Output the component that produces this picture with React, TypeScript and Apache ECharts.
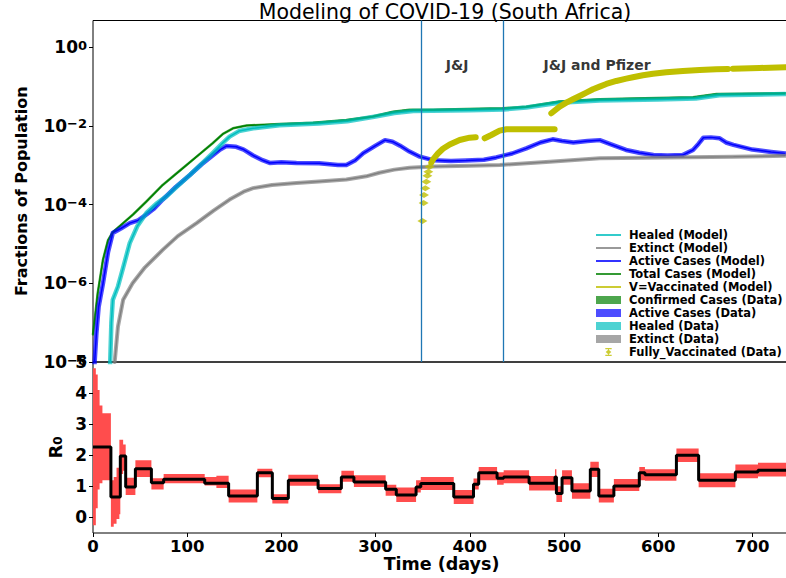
import React, { useEffect, useRef } from 'react';
import * as echarts from 'echarts';

const FONT = 'DejaVu Sans';
const X_MAX = 740;

// ---- top panel: fractions of population (stored as log10 exponents) ----
const totalDays = [0, 5, 10.6, 16, 21, 32, 42.5, 56.7, 74, 92, 110, 127, 138, 148.6, 163, 198, 233.6, 269, 297, 318.5, 336, 361, 396, 435, 460, 495, 538, 573, 637, 662, 735];
const totalLog10 = [-7.3, -6.25, -5.4, -4.9, -4.7, -4.47, -4.25, -3.92, -3.5, -3.14, -2.78, -2.44, -2.2, -2.06, -1.99, -1.95, -1.92, -1.85, -1.76, -1.64, -1.59, -1.59, -1.57, -1.55, -1.51, -1.38, -1.32, -1.3, -1.27, -1.19, -1.17];

const healedDays = [18, 19.5, 21, 26.5, 32, 39, 47, 56.7, 67, 78, 90, 102.7, 115, 127, 137, 145, 155, 170, 198, 240, 270, 300, 320, 340, 400, 436, 460, 495, 538, 600, 640, 665, 735];
const healedLog10 = [-8.2, -7.0, -6.42, -6.08, -5.6, -4.98, -4.55, -4.21, -3.98, -3.79, -3.52, -3.25, -2.97, -2.69, -2.45, -2.27, -2.13, -2.06, -1.98, -1.94, -1.88, -1.76, -1.67, -1.62, -1.6, -1.58, -1.53, -1.41, -1.35, -1.33, -1.3, -1.22, -1.19];

const activeDays = [1.5, 3.6, 6, 10.6, 16, 21, 30, 39, 48, 56.7, 65, 74, 88, 102.7, 115, 127, 135, 141.6, 152, 160, 170, 180, 187.6, 200, 216, 240, 260, 269, 278, 287, 300, 310, 318, 326, 336, 347, 361, 380, 396, 415, 428, 445, 460, 475, 488, 498, 510, 525, 538, 550, 566, 580, 595, 610, 626, 637, 643, 648, 656, 665, 672, 680, 700, 720, 735];
const activeLog10 = [-8.1, -7.27, -6.6, -6.0, -5.2, -4.72, -4.6, -4.47, -4.4, -4.25, -4.1, -3.87, -3.55, -3.25, -2.98, -2.75, -2.6, -2.51, -2.53, -2.6, -2.75, -2.87, -2.94, -2.92, -2.94, -2.95, -2.99, -2.99, -2.88, -2.69, -2.5, -2.36, -2.4, -2.5, -2.65, -2.78, -2.87, -2.89, -2.88, -2.86, -2.8, -2.7, -2.57, -2.42, -2.34, -2.38, -2.42, -2.38, -2.36, -2.47, -2.61, -2.68, -2.74, -2.75, -2.74, -2.61, -2.45, -2.3, -2.29, -2.31, -2.42, -2.48, -2.6, -2.66, -2.7];

const extinctDays = [23, 26.5, 32, 42, 55, 74, 90, 110, 128, 145, 160, 170, 190, 216, 240, 269, 290, 304, 320, 336, 361, 400, 432, 485, 538, 609, 680, 735];
const extinctLog10 = [-8.0, -7.1, -6.42, -6.0, -5.6, -5.15, -4.8, -4.47, -4.15, -3.87, -3.67, -3.58, -3.5, -3.45, -3.41, -3.36, -3.28, -3.19, -3.11, -3.06, -3.03, -3.01, -2.99, -2.91, -2.82, -2.8, -2.78, -2.76];

// fully vaccinated: first isolated daily points, then the dense record (null = no data)
const vaccEarlyDays = [349.7, 351, 351.4, 352.8, 353.9, 355, 356, 357.4];
const vaccEarlyLog10 = [-4.415, -3.96, -3.754, -3.584, -3.416, -3.263, -3.162, -3.035];
const vaccDays = [359.2, 361, 366.2, 371.5, 378.7, 389.3, 399.9, 406.3, 411, 415.8, 422.9, 431.7, 438.9, 490.1, 488, 486.6, 495.4, 502.5, 509.6, 516.7, 523.8, 530.8, 537.9, 545, 555.6, 566.2, 573.2, 583.9, 594.5, 608.7, 626.3, 644, 661.7, 674.1, 677, 679.4, 707.7, 735.3];
const vaccLog10 = [-2.932, -2.85, -2.7, -2.58, -2.47, -2.356, -2.297, -2.287, null, -2.313, -2.229, -2.119, -2.084, -2.084, null, -1.677, -1.509, -1.408, -1.321, -1.237, -1.153, -1.067, -1.001, -0.932, -0.856, -0.798, -0.762, -0.711, -0.671, -0.635, -0.602, -0.577, -0.559, -0.551, null, -0.543, -0.526, -0.508];

const vaccineEventDays = [349, 436];
const annoTexts = ['J&J', 'J&J and Pfizer'];
const annoDays = [386.6, 535.2];
const annoLevels = [0.36, 0.36];

// ---- bottom panel: R0 (piecewise constant) ----
const r0Start = [0, 3, 5, 7, 10, 19, 22, 25, 28, 29, 32, 34.7, 45, 62, 75, 118.6, 131, 144, 174.5, 190.4, 207.4, 239, 263.7, 277, 310.7, 322, 343, 348, 383, 404, 409.5, 429, 436, 463, 490.5, 492, 498, 508.5, 528, 537, 553, 580, 586, 619.4, 643, 682, 706];
const r0Value = [2.27, 2.27, 2.27, 2.27, 2.27, 0.66, 0.66, 0.66, 0.66, 1.98, 1.98, 0.98, 1.57, 1.12, 1.23, 1.1, 1.1, 0.69, 1.44, 0.61, 1.2, 0.93, 1.3, 1.14, 0.91, 0.72, 0.98, 1.09, 0.66, 1.07, 1.44, 1.26, 1.3, 1.1, 1.3, 0.77, 1.28, 0.85, 1.55, 0.69, 1.01, 1.44, 1.37, 2.0, 1.2, 1.46, 1.52];
const r0Low = [-0.25, 0.3, 0.9, 1.1, 1.2, -0.3, -0.2, -0.05, 0.1, 1.4, 1.5, 0.72, 1.3, 0.9, 1.1, 1.03, 0.95, 0.48, 1.29, 0.45, 1.02, 0.78, 1.15, 0.98, 0.7, 0.5, 0.8, 0.88, 0.43, 0.9, 1.2, 1.05, 1.1, 0.87, 1.1, 0.5, 1.05, 0.6, 1.3, 0.48, 0.85, 1.2, 1.18, 1.78, 0.97, 1.26, 1.32];
const r0High = [4.8, 4.6, 4.1, 3.6, 3.35, 1.2, 1.3, 1.6, 2.5, 2.5, 2.35, 1.28, 1.84, 1.26, 1.4, 1.3, 1.34, 0.9, 1.57, 0.75, 1.37, 1.07, 1.5, 1.36, 1.05, 0.96, 1.2, 1.3, 0.88, 1.25, 1.62, 1.45, 1.52, 1.33, 1.55, 1.0, 1.52, 1.1, 1.79, 0.92, 1.24, 1.62, 1.55, 2.22, 1.42, 1.7, 1.76];

const logTicks = [1e-8, 1e-6, 1e-4, 1e-2, 1];
const r0Ticks = [0, 1, 2, 3, 4, 5];
const dayTicks = [0, 100, 200, 300, 400, 500, 600, 700];

const pairs = (days: number[], logs: (number | null)[]) =>
  days.map((d, i) => [d, logs[i] == null ? null : Math.pow(10, logs[i] as number)]);

const LINE_ICON = 'path://M0,0H25V1.6H0Z';
const ERR_ICON = 'path://M1,0H9V1.5H1Z M5,2L8.5,5L5,8L1.5,5Z M1,8.5H9V10H1Z M4.4,0H5.6V10H4.4Z';

const modelLine = (name: string, color: string, data: any[]) => ({
  name, type: 'line', xAxisIndex: 0, yAxisIndex: 0, data, showSymbol: false, symbol: 'none',
  itemStyle: { color }, lineStyle: { color, width: 1.5 }, silent: true, z: 2,
});
const dataLine = (name: string, color: string, width: number, data: any[]) => ({
  name, type: 'line', xAxisIndex: 0, yAxisIndex: 0, data, showSymbol: false, symbol: 'none',
  itemStyle: { color }, lineStyle: { color, width, opacity: 0.7, cap: 'round', join: 'round' }, silent: true, z: 3,
});

function buildOption() {
  const bold = { fontFamily: FONT, fontWeight: 'bold' as const, color: '#000' };
  const supLabel = (v: number) => {
    const l = Math.log10(v);
    const e = Math.round(l);
    if (Math.abs(l - e) > 1e-6) return '';
    return `{b|10}{s|${e < 0 ? '\u2212' + -e : e}}`;
  };
  const bandRender = (_params: any, api: any) => {
    const up: number[][] = [];
    const lo: number[][] = [];
    for (let i = 0; i < r0Start.length; i++) {
      const x0 = r0Start[i];
      const x1 = i + 1 < r0Start.length ? r0Start[i + 1] : X_MAX;
      up.push(api.coord([x0, r0High[i]]), api.coord([x1, r0High[i]]));
      lo.push(api.coord([x0, r0Low[i]]), api.coord([x1, r0Low[i]]));
    }
    return { type: 'polygon', shape: { points: up.concat(lo.reverse()) }, style: { fill: '#ff4d4d' } };
  };
  const r0Line = r0Start.map((d, i) => [d, r0Value[i]]);
  r0Line.push([X_MAX, r0Value[r0Value.length - 1]]);

  return {
    animation: false,
    textStyle: { fontFamily: FONT },
    title: {
      text: 'Modeling of COVID-19 (South Africa)', left: 445, top: 1, textAlign: 'center', padding: 0,
      textStyle: { fontFamily: FONT, fontWeight: 'normal', fontSize: 20.5, color: '#000' },
    },
    legend: {
      orient: 'vertical', left: 596, top: 229, padding: 0, itemWidth: 25, itemHeight: 8, itemGap: 1, selectedMode: false,
      textStyle: { ...bold, fontSize: 11.5, lineHeight: 9.5, padding: [0, 0, 0, 3] },
      itemStyle: { borderWidth: 0 },
      data: [
        { name: 'Healed (Model)', icon: LINE_ICON, itemStyle: { color: '#00bfbf', borderWidth: 0 } },
        { name: 'Extinct (Model)', icon: LINE_ICON, itemStyle: { color: '#808080', borderWidth: 0 } },
        { name: 'Active Cases (Model)', icon: LINE_ICON, itemStyle: { color: '#0000ff', borderWidth: 0 } },
        { name: 'Total Cases (Model)', icon: LINE_ICON, itemStyle: { color: '#008000', borderWidth: 0 } },
        { name: 'V=Vaccinated (Model)', icon: LINE_ICON, itemStyle: { color: '#bfbf00', borderWidth: 0 } },
        { name: 'Confirmed Cases (Data)', icon: 'rect', itemStyle: { color: '#4da64d', borderWidth: 0 } },
        { name: 'Active Cases (Data)', icon: 'rect', itemStyle: { color: '#4d4dff', borderWidth: 0 } },
        { name: 'Healed (Data)', icon: 'rect', itemStyle: { color: '#4dd2d2', borderWidth: 0 } },
        { name: 'Extinct (Data)', icon: 'rect', itemStyle: { color: '#a6a6a6', borderWidth: 0 } },
        { name: 'Fully_Vaccinated (Data)', icon: ERR_ICON, itemStyle: { color: '#bfbf00', borderWidth: 0 } },
      ],
    },
    grid: [
      { left: 93, right: -4, top: 20.5, bottom: 216, outerBoundsMode: 'none', containLabel: false, show: true, borderColor: '#000', borderWidth: 1, backgroundColor: 'transparent' },
      { left: 93, right: -4, top: 362, bottom: 45, outerBoundsMode: 'none', containLabel: false, show: true, borderColor: '#000', borderWidth: 1, backgroundColor: 'transparent' },
    ],
    xAxis: [
      { gridIndex: 0, type: 'value', min: 0, max: X_MAX, axisLabel: { show: false }, axisTick: { show: false }, axisLine: { show: false }, splitLine: { show: false } },
      {
        gridIndex: 1, type: 'value', min: 0, max: X_MAX, interval: 100,
        axisLine: { show: false, onZero: false }, splitLine: { show: false },
        axisTick: { show: true, length: 4, lineStyle: { color: '#000' }, customValues: dayTicks },
        axisLabel: {
          ...bold, fontSize: 16.5, lineHeight: 14, margin: 6, customValues: dayTicks,
          formatter: (v: number) => (v % 100 === 0 ? String(v) : ''),
        },
        name: 'Time (days)', nameLocation: 'middle', nameGap: 23,
        nameTextStyle: { ...bold, fontSize: 17.5, lineHeight: 16 },
      },
    ],
    yAxis: [
      {
        gridIndex: 0, type: 'log', logBase: 10, min: 1e-8, max: Math.pow(10, 0.681), splitNumber: 5,
        axisLine: { show: false }, splitLine: { show: false },
        axisTick: { show: true, length: 4, lineStyle: { color: '#000' }, customValues: logTicks },
        axisLabel: {
          margin: 6, formatter: supLabel, customValues: logTicks,
          rich: {
            b: { ...bold, fontSize: 17, lineHeight: 17, verticalAlign: 'bottom' },
            s: { ...bold, fontSize: 13, lineHeight: 13, padding: [0, 0, 5, 0], verticalAlign: 'top' },
          },
        },
        name: 'Fractions of Population', nameLocation: 'middle', nameGap: 64,
        nameTextStyle: { ...bold, fontSize: 16 },
      },
      {
        gridIndex: 1, type: 'value', min: -0.5, max: 5, splitNumber: 5,
        axisLine: { show: false }, splitLine: { show: false },
        axisTick: { show: true, length: 4, lineStyle: { color: '#000' }, customValues: r0Ticks },
        axisLabel: {
          ...bold, fontSize: 17, margin: 6, customValues: r0Ticks,
          formatter: (v: number) => (Number.isInteger(v) ? String(v) : ''),
        },
        name: '{r|R}{sub|0}', nameLocation: 'middle', nameGap: 25,
        nameTextStyle: {
          rich: {
            r: { ...bold, fontSize: 18, lineHeight: 18, verticalAlign: 'top' },
            sub: { ...bold, fontSize: 12, lineHeight: 12, padding: [8, 0, 0, 0], verticalAlign: 'bottom' },
          },
        },
      },
    ],
    series: [
      modelLine('Healed (Model)', '#00bfbf', pairs(healedDays, healedLog10)),
      modelLine('Extinct (Model)', '#808080', pairs(extinctDays, extinctLog10)),
      modelLine('Active Cases (Model)', '#0000ff', pairs(activeDays, activeLog10)),
      modelLine('Total Cases (Model)', '#008000', pairs(totalDays, totalLog10)),
      modelLine('V=Vaccinated (Model)', '#bfbf00', pairs(vaccDays, vaccLog10)),
      dataLine('Confirmed Cases (Data)', '#008000', 2.5, pairs(totalDays, totalLog10)),
      dataLine('Active Cases (Data)', '#0000ff', 4.5, pairs(activeDays, activeLog10)),
      dataLine('Healed (Data)', '#00bfbf', 4.5, pairs(healedDays, healedLog10)),
      dataLine('Extinct (Data)', '#808080', 4, pairs(extinctDays, extinctLog10)),
      {
        name: 'Fully_Vaccinated (Data)', type: 'scatter', xAxisIndex: 0, yAxisIndex: 0,
        data: pairs(vaccEarlyDays, vaccEarlyLog10), symbol: 'diamond', symbolSize: [10, 6],
        itemStyle: { color: '#bfbf00' }, silent: true, z: 4,
      },
      {
        name: 'Fully_Vaccinated (Data)', type: 'line', xAxisIndex: 0, yAxisIndex: 0,
        data: pairs(vaccDays, vaccLog10), showSymbol: false, symbol: 'none', connectNulls: false,
        itemStyle: { color: '#bfbf00' }, lineStyle: { color: '#bfbf00', width: 6, cap: 'round', join: 'round' }, silent: true, z: 4,
      },
      {
        name: 'annotations', type: 'scatter', xAxisIndex: 0, yAxisIndex: 0, symbolSize: 0, silent: true, z: 5,
        data: annoDays.map((d, i) => ({ name: annoTexts[i], value: [d, annoLevels[i]] })),
        label: { show: true, position: 'inside', formatter: '{b}', ...bold, fontSize: 14 },
        markLine: {
          silent: true, symbol: 'none', label: { show: false },
          lineStyle: { color: '#1f77b4', width: 1.3, type: 'solid' },
          data: vaccineEventDays.map((d) => ({ xAxis: d })),
        },
      },
      {
        name: 'R0 band', type: 'custom', xAxisIndex: 1, yAxisIndex: 1, coordinateSystem: 'cartesian2d',
        data: [[0, 0]], renderItem: bandRender, silent: true, z: 2,
      },
      {
        name: 'R0', type: 'line', xAxisIndex: 1, yAxisIndex: 1, step: 'end', data: r0Line,
        showSymbol: false, symbol: 'none', itemStyle: { color: '#000' },
        lineStyle: { color: '#000', width: 3 }, silent: true, z: 3,
      },
    ],
  };
}

export default function App() {
  const ref = useRef<HTMLDivElement>(null);
  useEffect(() => {
    if (!ref.current) return;
    const chart = echarts.init(ref.current, null, { renderer: 'svg' });
    chart.setOption(buildOption() as any);
    return () => chart.dispose();
  }, []);
  return <div ref={ref} style={{ position: 'absolute', left: 0, top: 0, width: 786, height: 578, background: '#fff' }} />;
}
